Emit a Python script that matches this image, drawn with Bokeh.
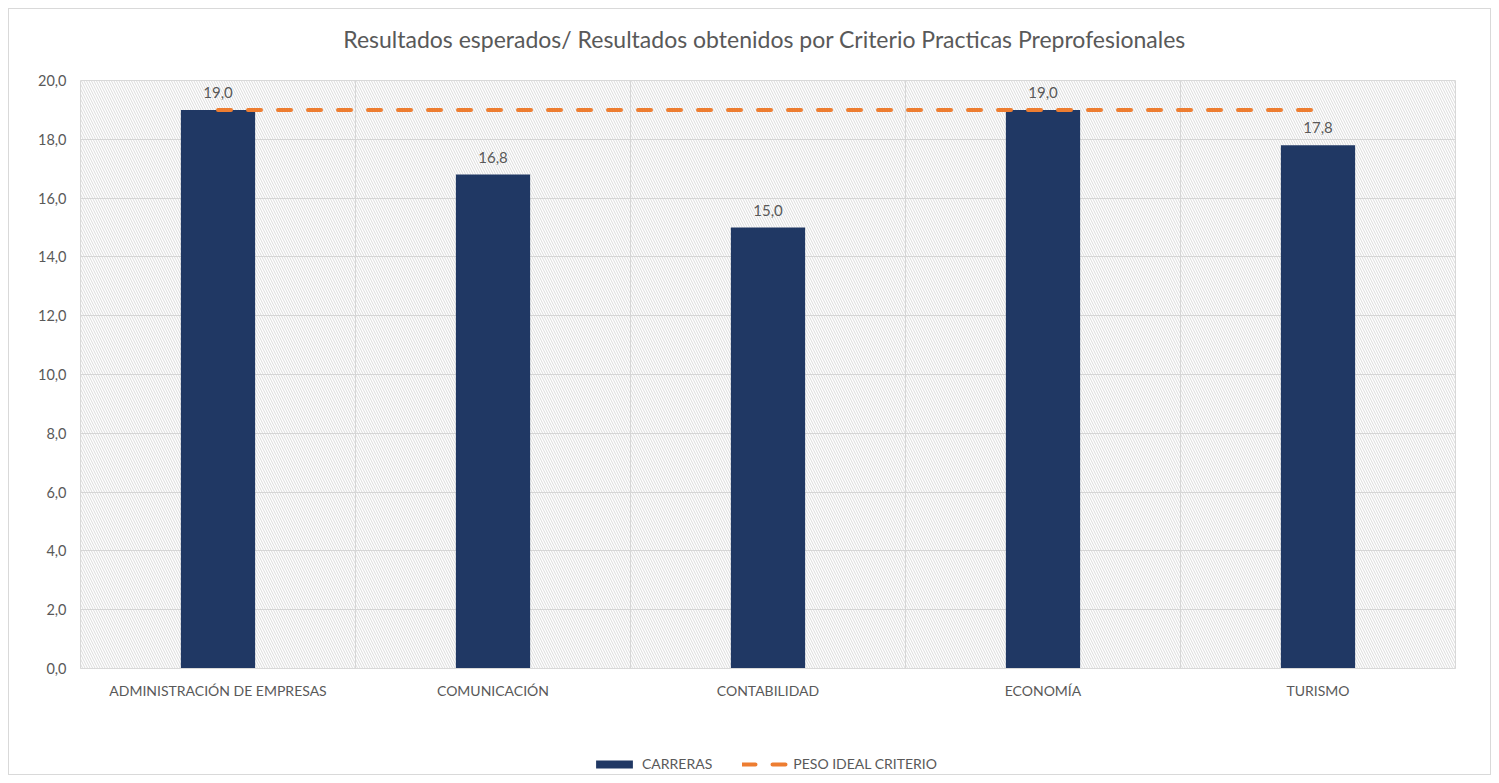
from bokeh.plotting import figure
from bokeh.layouts import column
from bokeh.models import (Range1d, FixedTicker, BoxAnnotation, Legend, LegendItem,
                          ColumnDataSource, Label)
from bokeh.core.properties import value
from bokeh.embed import file_html
from bokeh.resources import INLINE

categories = ["ADMINISTRACIÓN DE EMPRESAS", "COMUNICACIÓN", "CONTABILIDAD", "ECONOMÍA", "TURISMO"]
carreras = [19.0, 16.8, 15.0, 19.0, 17.8]
peso_ideal = [19.0, 19.0, 19.0, 19.0, 19.0]
y_ticks = [0, 2, 4, 6, 8, 10, 12, 14, 16, 18, 20]
series_names = ["CARRERAS", "PESO IDEAL CRITERIO"]
title_text = "Resultados esperados/ Resultados obtenidos por Criterio Practicas Preprofesionales"

FONT = "Lato"
TXT = "#595959"
GRID = "#d9d9d9"
BAR = "#203864"
ORANGE = "#ED7D31"
NAN = float("nan")

xs = [i + 0.5 for i in range(len(categories))]
labels = [f"{v:.1f}".replace(".", ",") for v in carreras]
src = ColumnDataSource(dict(x=xs, top=carreras, lab=labels, ideal=peso_ideal))

W = 1481
TOP_H, MAIN_H, LEG_H = 61, 632, 72
FL, FR = 71, 35  # frame borders (column aligns all frames)


def strip(height):
    f = figure(width=W, height=height, output_backend="svg", toolbar_location=None,
               x_axis_type=None, y_axis_type=None,
               x_range=Range1d(0, 1), y_range=Range1d(0, 1),
               min_border_left=FL, min_border_right=FR, min_border_top=0, min_border_bottom=0)
    f.grid.visible = False
    f.outline_line_color = None
    return f


# title strip
pt = strip(TOP_H)
pt.add_layout(Label(x=684, y=TOP_H - 29, x_units="screen", y_units="screen",
                    text=title_text, text_align="center", text_baseline="middle",
                    text_font=FONT, text_font_size="23px", text_color=TXT))

# main chart
p = figure(width=W, height=MAIN_H, output_backend="svg", toolbar_location=None,
           x_range=Range1d(0, len(categories)), y_range=Range1d(0, 20),
           min_border_left=FL, min_border_right=FR, min_border_top=10, min_border_bottom=34)
p.outline_line_color = GRID
p.background_fill_color = "white"

hatch = BoxAnnotation(fill_alpha=0, line_alpha=0, hatch_pattern="\\", hatch_color="#cccccc",
                      hatch_scale=5, hatch_weight=0.7, level="underlay")
p.add_layout(hatch)

p.xaxis.ticker = FixedTicker(ticks=xs)
p.xaxis.major_label_overrides = {x: c for x, c in zip(xs, categories)}
p.yaxis.ticker = FixedTicker(ticks=y_ticks)
p.yaxis.major_label_overrides = {t: f"{t:.1f}".replace(".", ",") for t in y_ticks}
for ax in (p.xaxis, p.yaxis):
    ax.major_label_text_font = FONT
    ax.major_label_text_color = TXT
    ax.major_tick_line_color = None
    ax.minor_tick_line_color = None
p.xaxis.major_label_text_font_size = "14px"
p.yaxis.major_label_text_font_size = "14.5px"
p.xaxis.axis_line_color = GRID
p.yaxis.axis_line_color = None
p.xaxis.major_label_standoff = 7
p.yaxis.major_label_standoff = 8

p.xgrid.ticker = FixedTicker(ticks=list(range(len(categories) + 1)))
p.xgrid.grid_line_color = GRID
p.ygrid.grid_line_color = GRID
p.xgrid.level = "underlay"
p.ygrid.level = "underlay"

p.vbar(x="x", top="top", width=0.27, bottom=0, source=src, fill_color=BAR, line_color=None)
p.line(x="x", y="ideal", source=src, line_color=ORANGE, line_width=4,
       line_dash="13 17", line_cap="round")
p.text(x="x", y="top", text="lab", source=src, text_align="center", text_baseline="bottom",
       y_offset=-12, text_font=value(FONT), text_font_size="15px", text_color=TXT)

# legend strip
pl = strip(LEG_H)
dummy = ColumnDataSource(dict(x=[NAN], y=[NAN], top=[NAN]))
r_bar = pl.vbar(x="x", top="top", width=0.1, source=dummy, fill_color=BAR, line_color=None)
r_line = pl.line(x="x", y="y", source=dummy, line_color=ORANGE, line_width=4,
                 line_dash="13 17", line_cap="round")
legend = Legend(items=[LegendItem(label=series_names[0], renderers=[r_bar]),
                       LegendItem(label=series_names[1], renderers=[r_line])],
                orientation="horizontal", location=(511, 2), margin=0,
                border_line_color=None, background_fill_alpha=0,
                label_text_font=FONT, label_text_font_size="14px", label_text_color=TXT,
                glyph_width=46, glyph_height=10, spacing=30, label_standoff=5, padding=2)
pl.add_layout(legend, "center")

layout = column(pt, p, pl, spacing=0)
layout.styles = {"border": "1px solid #d9d9d9", "margin": "8px"}

open("out.html", "w").write(file_html(layout, INLINE))
